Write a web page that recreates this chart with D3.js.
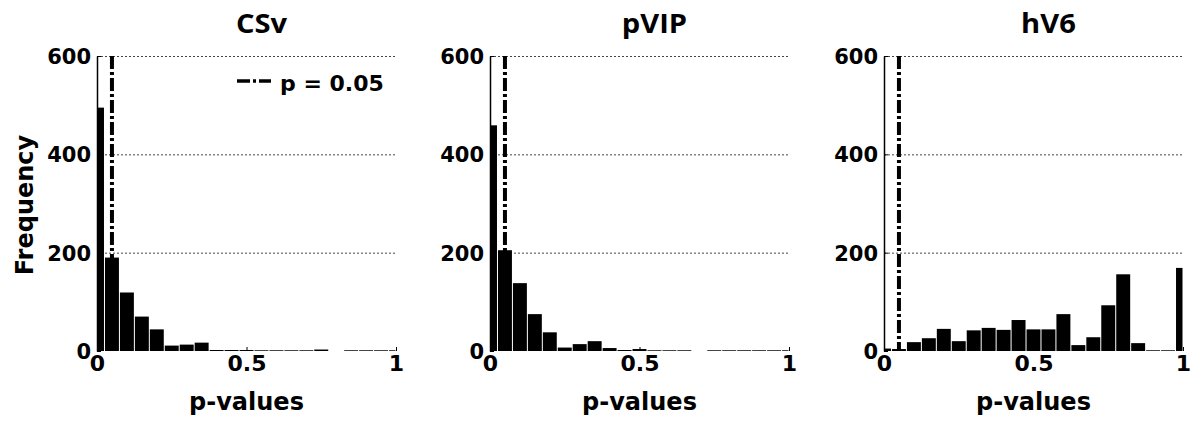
<!DOCTYPE html>
<html>
<head>
<meta charset="utf-8">
<script src="https://cdn.jsdelivr.net/npm/d3@7"></script>
<style>
  body { margin: 0; background: #fff; }
  text { font-family: "DejaVu Sans", sans-serif; font-weight: bold; fill: #000; }
</style>
</head>
<body>
<script>
// histogram bin centres (MATLAB hist style, width 0.05)
let binCenters = [0, 0.05, 0.1, 0.15, 0.2, 0.25, 0.3, 0.35, 0.4, 0.45, 0.5,
                  0.55, 0.6, 0.65, 0.7, 0.75, 0.8, 0.85, 0.9, 0.95, 1]
let binWidth = 0.05

let panelNames = ["CSv", "pVIP", "hV6"]

// counts per bin, null = bar not drawn
let csvCounts  = [495, 190, 119, 70, 44, 11, 13, 17, 1, 2, 2, 0, 0, 0, 0, 3, null, 0, 0, 0, 0]
let pvipCounts = [459, 205, 138, 75, 38, 7, 14, 20, 6, 2, 4, 0, 0, 0, null, 0, 0, 0, 0, 0, 0]
let hv6Counts  = [5, 4, 18, 26, 45, 20, 42, 47, 43, 63, 44, 44, 75, 12, 28, 93, 156, 16, 0, 0, 169]

let yTicks = [0, 200, 400, 600]
let gridTicks = [200, 400, 600]
let xTicks = [0, 0.5, 1]
let threshold = 0.05

let panelLeft = [97, 490, 884]
let panelWidth = 299
let plotTop = 56, plotBottom = 351

let svg = d3.select("body")
    .append("svg")
    .attr("width", 1196)
    .attr("height", 421)

let yScale = d3.scaleLinear()
    .domain([0, 600])
    .range([plotBottom, plotTop])

let allCounts = [csvCounts, pvipCounts, hv6Counts]

allCounts.forEach(function (counts, p) {
    let xScale = d3.scaleLinear()
        .domain([0, 1])
        .range([panelLeft[p], panelLeft[p] + panelWidth])

    let g = svg.append("g")

    // dotted grid
    g.selectAll(".grid")
        .data(gridTicks)
        .enter()
        .append("line")
        .attr("x1", xScale(0))
        .attr("x2", xScale(1))
        .attr("y1", d => yScale(d) + 0.5)
        .attr("y2", d => yScale(d) + 0.5)
        .attr("stroke", "#444")
        .attr("stroke-width", 1)
        .attr("stroke-dasharray", "2,2")

    // p = 0.05 line, behind the bars
    g.append("line")
        .attr("x1", xScale(threshold))
        .attr("x2", xScale(threshold))
        .attr("y1", yScale(600))
        .attr("y2", yScale(0))
        .attr("stroke", "#000")
        .attr("stroke-width", 4)
        .attr("stroke-dasharray", "13,3,3,3")

    let bars = binCenters.map((c, i) => ({ c: c, v: counts[i] }))
        .filter(d => d.v !== null)

    g.selectAll(".bar")
        .data(bars)
        .enter()
        .append("rect")
        .attr("x", d => xScale(Math.max(0, d.c - binWidth / 2)) + 0.5)
        .attr("width", d => xScale(Math.min(1, d.c + binWidth / 2)) - xScale(Math.max(0, d.c - binWidth / 2)) - 1)
        .attr("y", d => Math.min(yScale(d.v), yScale(0) - 1))
        .attr("height", d => Math.max(yScale(0) - yScale(d.v), 1))
        .attr("fill", d => d.v === 0 ? "#444" : "#000")

    // y axis, ticks pointing inward
    let yAxis = d3.axisLeft(yScale)
        .tickValues(yTicks)
        .tickSizeInner(-4)
        .tickSizeOuter(0)
        .tickPadding(6)
        .tickFormat(d3.format("d"))

    let ya = g.append("g")
        .attr("transform", "translate(" + xScale(0) + ",0)")
        .call(yAxis)
    ya.select(".domain").attr("stroke-width", 1.5)
    ya.selectAll("text")
        .style("font-size", "21px")
        .attr("dy", "0.36em")

    // x axis: ticks only, no baseline
    let xAxis = d3.axisBottom(xScale)
        .tickValues(xTicks)
        .tickSizeInner(-4)
        .tickSizeOuter(0)
        .tickPadding(4)
        .tickFormat(d => d === 0.5 ? "0.5" : d3.format("d")(d))

    let xa = g.append("g")
        .attr("transform", "translate(0," + yScale(0) + ")")
        .call(xAxis)
    xa.select(".domain").remove()
    xa.selectAll("text")
        .style("font-size", "22px")
        .attr("dy", "0.74em")

    g.append("text")
        .attr("x", xScale(0.5))
        .attr("y", 410)
        .attr("text-anchor", "middle")
        .style("font-size", "24px")
        .text("p-values")

    // title, slightly stretched like the source
    g.append("text")
        .attr("transform", "translate(" + xScale(0.55) + ",33) scale(1.12,1)")
        .attr("text-anchor", "middle")
        .style("font-family", "'Open Sans', sans-serif")
        .style("font-weight", "bold")
        .style("font-size", "26px")
        .text(panelNames[p])

    if (p === 0) {
        g.append("text")
            .attr("transform", "translate(33,205) rotate(-90)")
            .attr("text-anchor", "middle")
            .style("font-size", "24px")
            .text("Frequency")

        // legend
        g.append("line")
            .attr("x1", xScale(0) + 140)
            .attr("x2", xScale(0) + 174)
            .attr("y1", 81)
            .attr("y2", 81)
            .attr("stroke", "#000")
            .attr("stroke-width", 3.5)
            .attr("stroke-dasharray", "13,3,3,3")

        g.append("text")
            .attr("x", xScale(0) + 183)
            .attr("y", 91)
            .style("font-size", "22px")
            .text("p = 0.05")
    }
})
</script>
</body>
</html>
